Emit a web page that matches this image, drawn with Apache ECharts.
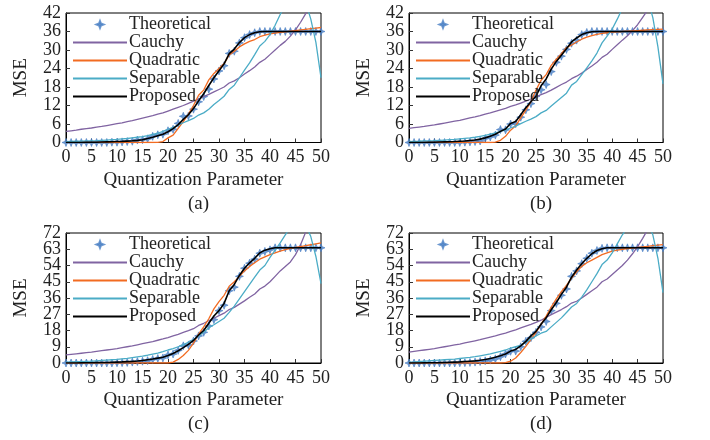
<!DOCTYPE html>
<html>
<head>
<meta charset="utf-8">
<script src="https://cdn.jsdelivr.net/npm/echarts@6/dist/echarts.min.js"></script>
<style>
html,body{margin:0;padding:0;background:#fff}
#main{width:710px;height:440px}
</style>
</head>
<body>
<div id="main"></div>
<script>
// quantization parameter (x axis)
var qp = [0,1,2,3,4,5,6,7,8,9,10,11,12,13,14,15,16,17,18,19,20,21,22,23,24,25,26,27,28,29,30,31,32,33,34,35,36,37,38,39,40,41,42,43,44,45,46,47,48,49,50]
var names = ['Theoretical','Cauchy','Quadratic','Separable','Proposed']
var panelLabels = ['(a)','(b)','(c)','(d)']
// y tick labels, top panels and bottom panels
var yTicksTop = ['0','6','12','18','24','30','36','42']
var yTicksBottom = ['0','9','18','27','36','45','54','63','72']
var yMax = [42,42,72,72]
var yStep = [6,6,9,9]

// (a)
var theoA = [0,0,0,0,0,0,0,0,0,0.1,0.1,0.2,0.3,0.4,0.8,0.9,1.2,2.0,2.5,2.7,3.8,4.3,6.2,8.5,8.6,10.8,13.2,14.9,17.3,20.6,23.2,24.9,28.9,29.6,32.3,34.0,35.0,35.6,36.0,36,36,36,36,36,36,36,36,36,36,36,36]
var cauchyA = [3.6,3.8,4.0,4.3,4.5,4.7,5.0,5.2,5.5,5.8,6.1,6.4,6.8,7.1,7.5,7.9,8.3,8.7,9.2,9.6,10.2,10.8,11.4,12.0,12.7,13.4,14.1,14.9,15.6,16.4,17.2,18.0,19.3,20.0,21.0,22.2,23.3,24.5,26.0,27.0,28.5,30.0,31.5,32.8,34.5,36.5,39.0,41.8,44.5,47.5,50.5]
var quadA = [0,0,0,0,0,0,0,0,0,0,0,0,0,0,0,0,0,0,0.05,0.3,1.5,2.4,4.6,6.8,9.2,12.0,15.3,17.0,20.3,22.4,24.0,25.6,28.4,29.6,31.0,32.0,32.8,33.4,34.3,34.8,35.2,35.5,35.7,35.9,36.1,36.3,36.5,36.7,36.9,37.1,37.3]
var sepA = [0.3,0.35,0.4,0.45,0.5,0.55,0.6,0.7,0.8,0.9,1.0,1.15,1.3,1.5,1.7,1.9,2.2,2.6,3.0,3.6,4.3,4.9,5.6,6.4,7.1,7.8,8.9,9.6,10.8,12.3,13.6,15.0,17.2,18.6,21.0,23.5,25.8,28.5,31.3,32.8,35.0,38.0,41.5,44.5,47.0,48.5,48.5,45.5,40.0,32.5,21.0]
var propA = [0,0,0,0,0.05,0.1,0.1,0.15,0.2,0.25,0.3,0.35,0.45,0.55,0.7,0.9,1.3,1.7,2.2,2.7,3.5,4.5,5.8,7.5,9.0,11.0,13.5,15.8,18.5,21.0,23.3,25.5,28.8,30.3,32.4,34.0,35.0,35.6,35.9,36,36,36,36,36,36,36,36,36,36,36,36]

// (b)
var theoB = [0,0,0,0,0,0,0,0,0,0,0,0.1,0.2,0.3,0.5,1.3,1.8,2.4,4.2,4.1,6.0,6.1,8.2,10.6,12.6,15.0,17.1,18.8,23.0,26.0,28.0,30.2,32.2,33.2,35.0,35.7,36,36,36,36,36,36,36,36,36,36,36,36,36,36,36]
var cauchyB = [4.6,4.8,5.0,5.2,5.5,5.7,6.0,6.3,6.6,6.9,7.2,7.6,8.0,8.3,8.7,9.2,9.6,10.1,10.6,11.1,11.7,12.2,12.8,13.4,14.1,14.8,15.5,16.2,17.0,17.9,18.8,19.6,20.7,21.5,22.5,23.7,24.8,26.0,27.6,28.6,30.2,31.7,33.2,34.6,36.3,38.2,40.6,43.0,45.5,48.0,50.5]
var quadB = [0,0,0,0,0,0,0,0,0,0,0,0,0,0,0,0,0,0.1,0.7,2.0,4.0,5.4,8.0,10.5,13.2,17.0,20.2,22.0,25.0,27.0,28.8,30.8,31.6,32.6,33.5,34.2,34.7,35.1,35.4,35.6,35.8,35.9,36.0,36.1,36.2,36.3,36.4,36.5,36.6,36.7,36.8]
var sepB = [0.3,0.35,0.4,0.5,0.55,0.6,0.7,0.8,0.9,1.0,1.2,1.35,1.5,1.7,2.0,2.3,2.7,3.1,3.6,4.1,4.7,5.3,6.1,6.9,7.6,8.4,9.6,10.4,11.8,13.2,14.6,16.0,18.6,19.8,22.0,24.2,26.5,29.0,32.3,34.5,36.8,40.0,43.5,46.5,48.5,49.5,49.0,46.5,40.5,31.0,19.0]
var propB = [0,0,0,0,0.05,0.1,0.15,0.2,0.25,0.3,0.4,0.5,0.65,0.8,1.1,1.5,2.0,2.7,3.6,4.4,6.2,6.8,9.0,11.3,13.2,15.0,18.4,20.6,23.8,26.3,28.3,30.4,32.6,33.9,35.0,35.6,35.9,36,36,36,36,36,36,36,36,36,36,36,36,36,36]

// (c)
var theoC = [0,0,0,0,0,0,0,0,0,0,0.1,0.2,0.3,0.5,0.8,1.0,1.3,2.0,2.5,2.8,4.5,5.0,7.0,9.5,10.0,12.2,15.0,17.0,20.5,24.0,29.0,32.0,40.0,42.0,48.0,52.5,55.3,57.5,60.8,61.8,62.7,63.8,63.8,63.8,63.8,63.8,63.8,63.8,63.8,63.8,63.8]
var cauchyC = [4.5,4.8,5.1,5.4,5.7,6.0,6.4,6.8,7.2,7.6,8.0,8.5,9.0,9.5,10.1,10.7,11.3,11.9,12.6,13.3,14.1,15.0,15.9,16.9,17.9,19.0,20.8,22.0,23.4,24.8,26.2,27.6,29.6,30.8,32.6,34.4,36.4,38.2,41.0,42.6,45.0,48.0,51.0,53.5,56.0,60.0,65.5,72.5,78.0,83.0,88.0]
var quadC = [0,0,0,0,0,0,0,0,0,0,0,0,0,0,0,0,0,0,0,0,0,0.5,2.0,4.2,7.0,11.0,16.0,20.0,24.5,30.0,34.0,37.5,42.5,45.0,48.0,51.0,53.5,55.5,57.5,58.8,60.0,61.0,62.0,62.8,63.5,64.0,64.5,65.0,65.5,66.0,66.5]
var sepC = [0.5,0.6,0.7,0.8,0.9,1.0,1.2,1.4,1.6,1.8,2.0,2.3,2.6,3.0,3.4,3.8,4.3,4.9,5.5,6.3,7.2,8.0,9.0,10.2,11.5,13.0,15.0,17.0,19.5,21.2,23.0,24.8,28.0,31.5,35.5,39.5,43.5,47.5,51.5,54.0,58.5,62.5,66.5,71.0,75.0,78.0,79.0,76.5,70.0,59.0,44.0]
var propC = [0,0,0,0.05,0.1,0.15,0.2,0.25,0.3,0.4,0.5,0.6,0.75,0.9,1.1,1.4,1.8,2.2,2.7,3.2,4.2,5.3,6.8,8.5,10.3,12.5,15.5,18.0,22.0,26.0,29.0,33.0,40.0,43.5,48.5,52.5,55.5,58.0,61.0,62.5,63.3,63.8,63.8,63.8,63.8,63.8,63.8,63.8,63.8,63.8,63.8]

// (d)
var theoD = [0,0,0,0,0,0,0,0,0,0,0.1,0.2,0.3,0.5,0.8,1.2,1.6,2.3,3.5,5.0,6.5,6.6,9.0,12.0,14.0,17.0,20.0,23.0,29.0,33.0,37.5,41.0,48.0,51.0,55.0,58.0,60.8,62.3,63.5,63.8,63.8,63.8,63.8,63.8,63.8,63.8,63.8,63.8,63.8,63.8,63.8]
var cauchyD = [6.0,6.4,6.8,7.2,7.6,8.0,8.5,9.0,9.5,10.0,10.5,11.1,11.7,12.3,12.9,13.6,14.3,15.0,15.8,16.6,17.5,18.4,19.4,20.4,21.4,22.5,23.7,25.3,26.8,28.2,29.6,31.2,33.2,34.2,36.0,38.0,40.0,42.0,45.0,46.5,49.0,51.5,54.0,57.0,60.5,64.5,69.0,74.0,79.0,84.0,89.0]
var quadD = [0,0,0,0,0,0,0,0,0,0,0,0,0,0,0,0,0,0,0,0.2,1.0,2.8,5.8,9.2,13.0,17.0,21.5,26.0,31.0,35.5,39.5,43.0,47.0,50.5,53.5,55.5,57.0,58.5,60.0,61.0,62.0,62.5,63.0,63.3,63.6,64.0,64.3,64.6,65.0,65.3,65.6]
var sepD = [0.5,0.6,0.8,1.0,1.2,1.4,1.6,1.8,2.0,2.2,2.5,2.8,3.1,3.5,4.0,4.5,5.0,5.7,6.4,7.2,8.2,9.0,9.8,11.5,13.2,15.0,16.5,17.5,20.0,22.5,25.0,28.0,31.0,33.0,36.5,40.5,45.0,49.5,54.5,57.0,61.0,66.0,71.0,75.0,78.0,80.0,80.0,77.0,71.0,58.0,39.0]
var propD = [0,0,0,0.05,0.1,0.15,0.2,0.3,0.4,0.5,0.6,0.8,1.0,1.2,1.5,1.9,2.5,3.2,4.0,5.0,6.6,7.5,9.5,12.0,15.0,17.5,21.5,25.0,29.5,33.5,38.0,42.0,47.5,51.5,55.0,58.0,60.5,62.3,63.3,63.8,63.8,63.8,63.8,63.8,63.8,63.8,63.8,63.8,63.8,63.8,63.8]

var panels = [
	[theoA,cauchyA,quadA,sepA,propA],
	[theoB,cauchyB,quadB,sepB,propB],
	[theoC,cauchyC,quadC,sepC,propC],
	[theoD,cauchyD,quadD,sepD,propD]
]
var yTicks = [yTicksTop,yTicksTop,yTicksBottom,yTicksBottom]

var colors = ['#4a80c4','#8064a2','#f26b21','#4bacc6','#000000']
var font = '"Liberation Serif", "Times New Roman", serif'
var star = 'path://M5,0 L6.4,3.6 L10,5 L6.4,6.4 L5,10 L3.6,6.4 L0,5 L3.6,3.6 Z'

// plot boxes [left, top, width, height]
var boxes = [
	[66,13,255,129.5],
	[409,13,254,129.5],
	[66,233,255,130],
	[409,233,254,130]
]

function pairs(arr){
	return qp.map(function(x,i){ return [x,arr[i]] })
}

var grid = [], xAxis = [], yAxis = [], labelAxes = [], series = [], legend = [], title = []

boxes.forEach(function(b,p){
	grid.push({left:b[0],top:b[1],width:b[2],height:b[3],show:true,borderColor:'#000',borderWidth:1,backgroundColor:'transparent'})
	xAxis.push({
		type:'value',gridIndex:p,min:0,max:50,interval:5,
		name:'Quantization Parameter',nameLocation:'middle',nameGap:28,
		nameTextStyle:{fontFamily:font,fontSize:19,color:'#222'},
		axisLine:{lineStyle:{color:'#000',width:1}},
		axisTick:{inside:true,length:4,lineStyle:{color:'#333'}},
		axisLabel:{fontFamily:font,fontSize:18,color:'#222',margin:6,showMinLabel:true,showMaxLabel:true,hideOverlap:false},
		splitLine:{show:false}
	})
	// value axis used by the series (ticks + name, labels drawn by the category axis below)
	yAxis.push({
		type:'value',gridIndex:p,min:0,max:yMax[p],interval:yStep[p],
		name:'MSE',nameLocation:'middle',nameGap:35,
		nameTextStyle:{fontFamily:font,fontSize:19,color:'#222'},
		axisLine:{show:true,lineStyle:{color:'#000',width:1}},
		axisTick:{show:true,inside:true,length:4,lineStyle:{color:'#333'}},
		axisLabel:{show:false},
		splitLine:{show:false}
	})
	// tick labels only, so none of them gets hidden by overlap
	labelAxes.push({
		type:'category',gridIndex:p,position:'left',boundaryGap:false,
		data:yTicks[p],
		axisLine:{show:false},axisTick:{show:false},splitLine:{show:false},
		axisLabel:{interval:0,fontFamily:font,fontSize:18,color:'#222',margin:5,hideOverlap:false}
	})
	panels[p].forEach(function(arr,k){
		if(k==0){
			series.push({
				name:names[k],type:'scatter',xAxisIndex:p,yAxisIndex:p,
				symbol:star,symbolSize:8,symbolKeepAspect:true,
				itemStyle:{color:colors[k],borderColor:colors[k],borderWidth:0.8},
				data:pairs(arr)
			})
		}else{
			series.push({
				name:names[k],type:'line',xAxisIndex:p,yAxisIndex:p,
				symbol:'none',smooth:false,clip:true,
				lineStyle:{color:colors[k],width:k==4?1.6:1.3},
				itemStyle:{color:colors[k]},
				data:pairs(arr)
			})
		}
	})
	legend.push({
		orient:'vertical',left:b[0]+6,top:b[1]+2.5,padding:0,
		data:names.map(function(n,k){
			return k==0 ? {name:n} : {name:n,itemStyle:{opacity:0}}
		}),
		itemWidth:54,itemHeight:7,itemGap:0,
		textStyle:{fontFamily:font,fontSize:18,color:'#222',lineHeight:17.2,padding:[0,0,0,-3]},
		selectedMode:false
	})
	title.push({
		text:panelLabels[p],left:b[0]+b[2]/2,top:b[1]+b[3]+47,textAlign:'center',
		textStyle:{fontFamily:font,fontSize:19,fontWeight:'normal',color:'#222'}
	})
})

var chart = echarts.init(document.getElementById('main'))
var option = {
	animation:false,
	backgroundColor:'#fff',
	textStyle:{fontFamily:font},
	title:title,
	grid:grid,
	xAxis:xAxis,
	yAxis:yAxis.concat(labelAxes),
	legend:legend,
	series:series
}
chart.setOption(option)
</script>
</body>
</html>
